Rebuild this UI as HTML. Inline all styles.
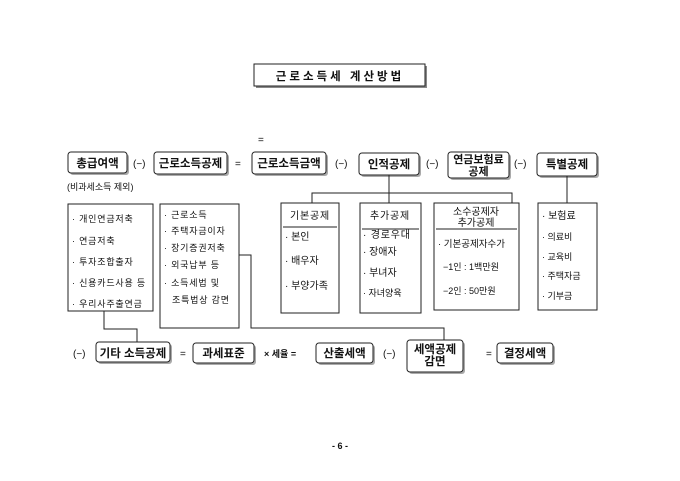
<!DOCTYPE html>
<html><head><meta charset="utf-8"><style>
html,body{margin:0;padding:0;background:#fff;}
svg{display:block;}
text{font-family:"Liberation Sans","Noto Sans CJK KR",sans-serif;fill:#111;}
.b{font-weight:bold;font-size:11.5px;}
.s{font-size:9px;}
.m{font-size:10px;}
.w{letter-spacing:0.8px;}
</style></head><body>
<svg width="680" height="481" viewBox="0 0 680 481" xmlns="http://www.w3.org/2000/svg">
<g fill="#aaa" stroke="none">
<rect x="70" y="154" width="59" height="21" rx="3"/>
<rect x="156" y="154" width="73" height="22" rx="3"/>
<rect x="254" y="154" width="74" height="22" rx="3"/>
<rect x="361" y="155" width="60" height="22" rx="3"/>
<rect x="450" y="154" width="61" height="26" rx="3"/>
<rect x="539" y="155" width="60" height="23" rx="3"/>
<rect x="98" y="344" width="74" height="20" rx="3"/>
<rect x="195" y="345" width="61" height="20" rx="3"/>
<rect x="318" y="345" width="57" height="20" rx="3"/>
<rect x="409" y="342" width="56" height="32" rx="3"/>
<rect x="499" y="345" width="56" height="20" rx="3"/>
</g>
<g fill="none" stroke="#222" stroke-width="1">
<rect x="256" y="66" width="171" height="22" fill="#888" stroke="none"/>
<rect x="254" y="64" width="171" height="22" fill="#fff"/>
<rect x="68" y="152" width="59" height="21" rx="3" fill="#fff"/>
<rect x="154" y="152" width="73" height="22" rx="3" fill="#fff"/>
<rect x="252" y="152" width="74" height="22" rx="3" fill="#fff"/>
<rect x="359" y="153" width="60" height="22" rx="3" fill="#fff"/>
<rect x="448" y="152" width="61" height="26" rx="3" fill="#fff"/>
<rect x="537" y="153" width="60" height="23" rx="3" fill="#fff"/>
<rect x="68" y="204" width="85" height="107"/>
<rect x="160" y="204" width="79" height="124"/>
<rect x="281" y="203" width="58" height="110"/>
<line x1="283" y1="227" x2="337" y2="227"/>
<rect x="360" y="203" width="61" height="110"/>
<line x1="362" y1="229" x2="419" y2="229"/>
<rect x="434" y="203" width="85" height="107"/>
<line x1="436" y1="229" x2="517" y2="229"/>
<rect x="538" y="203" width="59" height="107"/>
<polyline points="389,175 389,193"/>
<polyline points="312,203 312,193 512,193 512,203"/>
<line x1="389" y1="193" x2="389" y2="203"/>
<line x1="567" y1="176" x2="567" y2="203"/>
<polyline points="239,255 251,255 251,328 444,328 444,340"/>
<polyline points="104,311 104,329 137,329 137,342"/>
<rect x="96" y="342" width="74" height="20" rx="3" fill="#fff"/>
<rect x="193" y="343" width="61" height="20" rx="3" fill="#fff"/>
<rect x="316" y="343" width="57" height="20" rx="3" fill="#fff"/>
<rect x="407" y="340" width="56" height="32" rx="3" fill="#fff"/>
<rect x="497" y="343" width="56" height="20" rx="3" fill="#fff"/>
</g>
<text x="340" y="80" text-anchor="middle" class="b" style="font-size:11.5px;letter-spacing:3px">근로소득세 계산방법</text>
<text x="258" y="143" class="m">=</text>
<text x="97.5" y="167" text-anchor="middle" class="b">총급여액</text>
<text x="133" y="167" class="m">(−)</text>
<text x="190.5" y="167" text-anchor="middle" class="b">근로소득공제</text>
<text x="235" y="167" class="m">=</text>
<text x="289" y="167" text-anchor="middle" class="b">근로소득금액</text>
<text x="335" y="167" class="m">(−)</text>
<text x="389" y="168" text-anchor="middle" class="b">인적공제</text>
<text x="426" y="167" class="m">(−)</text>
<text x="478.5" y="163" text-anchor="middle" class="b" style="font-size:11px">연금보험료</text>
<text x="478.5" y="175" text-anchor="middle" class="b" style="font-size:11px">공제</text>
<text x="514" y="167" class="m">(−)</text>
<text x="567" y="168" text-anchor="middle" class="b">특별공제</text>
<text x="67" y="190" class="s">(비과세소득 제외)</text>
<text x="72" y="222" class="s w">· 개인연금저축</text>
<text x="72" y="244" class="s w">· 연금저축</text>
<text x="72" y="265" class="s w">· 투자조합출자</text>
<text x="72" y="286" class="s w">· 신용카드사용 등</text>
<text x="72" y="307" class="s w">· 우리사주출연금</text>
<text x="164" y="218" class="s w">· 근로소득</text>
<text x="164" y="234" class="s w">· 주택자금이자</text>
<text x="164" y="251" class="s w">· 장기증권저축</text>
<text x="164" y="268" class="s w">· 외국납부 등</text>
<text x="164" y="286" class="s w">· 소득세법 및</text>
<text x="172" y="303" class="s w">조특법상 감면</text>
<text x="310" y="219" text-anchor="middle" class="m w">기본공제</text>
<text x="285" y="240" class="m">· 본인</text>
<text x="285" y="264" class="m">· 배우자</text>
<text x="285" y="289" class="m">· 부양가족</text>
<text x="390" y="219" text-anchor="middle" class="m w">추가공제</text>
<text x="363" y="238" class="m w">· 경로우대</text>
<text x="363" y="255" class="m">· 장애자</text>
<text x="363" y="276" class="m">· 부녀자</text>
<text x="363" y="296" class="s">· 자녀양육</text>
<text x="476" y="215" text-anchor="middle" class="m">소수공제자</text>
<text x="476" y="226" text-anchor="middle" class="m">추가공제</text>
<text x="438" y="247" class="m" style="font-size:9.5px">· 기본공제자수가</text>
<text x="443" y="270" class="s">−1인 : 1백만원</text>
<text x="443" y="294" class="s">−2인 : 50만원</text>
<text x="542" y="219" class="m">· 보험료</text>
<text x="542" y="240" class="s">· 의료비</text>
<text x="542" y="260" class="s">· 교육비</text>
<text x="542" y="279" class="s">· 주택자금</text>
<text x="542" y="299" class="s">· 기부금</text>
<text x="73" y="357" class="m">(−)</text>
<text x="133" y="357" text-anchor="middle" class="b">기타 소득공제</text>
<text x="180" y="357" class="m">=</text>
<text x="223.5" y="357" text-anchor="middle" class="b">과세표준</text>
<text x="264" y="357" class="s" style="font-weight:bold">× 세율 =</text>
<text x="344.5" y="357" text-anchor="middle" class="b">산출세액</text>
<text x="383" y="357" class="m">(−)</text>
<text x="435" y="353" text-anchor="middle" class="b">세액공제</text>
<text x="435" y="365" text-anchor="middle" class="b">감면</text>
<text x="486" y="357" class="m">=</text>
<text x="525" y="357" text-anchor="middle" class="b">결정세액</text>
<text x="340" y="449" text-anchor="middle" class="s" style="font-weight:bold">- 6 -</text>
</svg>
</body></html>
